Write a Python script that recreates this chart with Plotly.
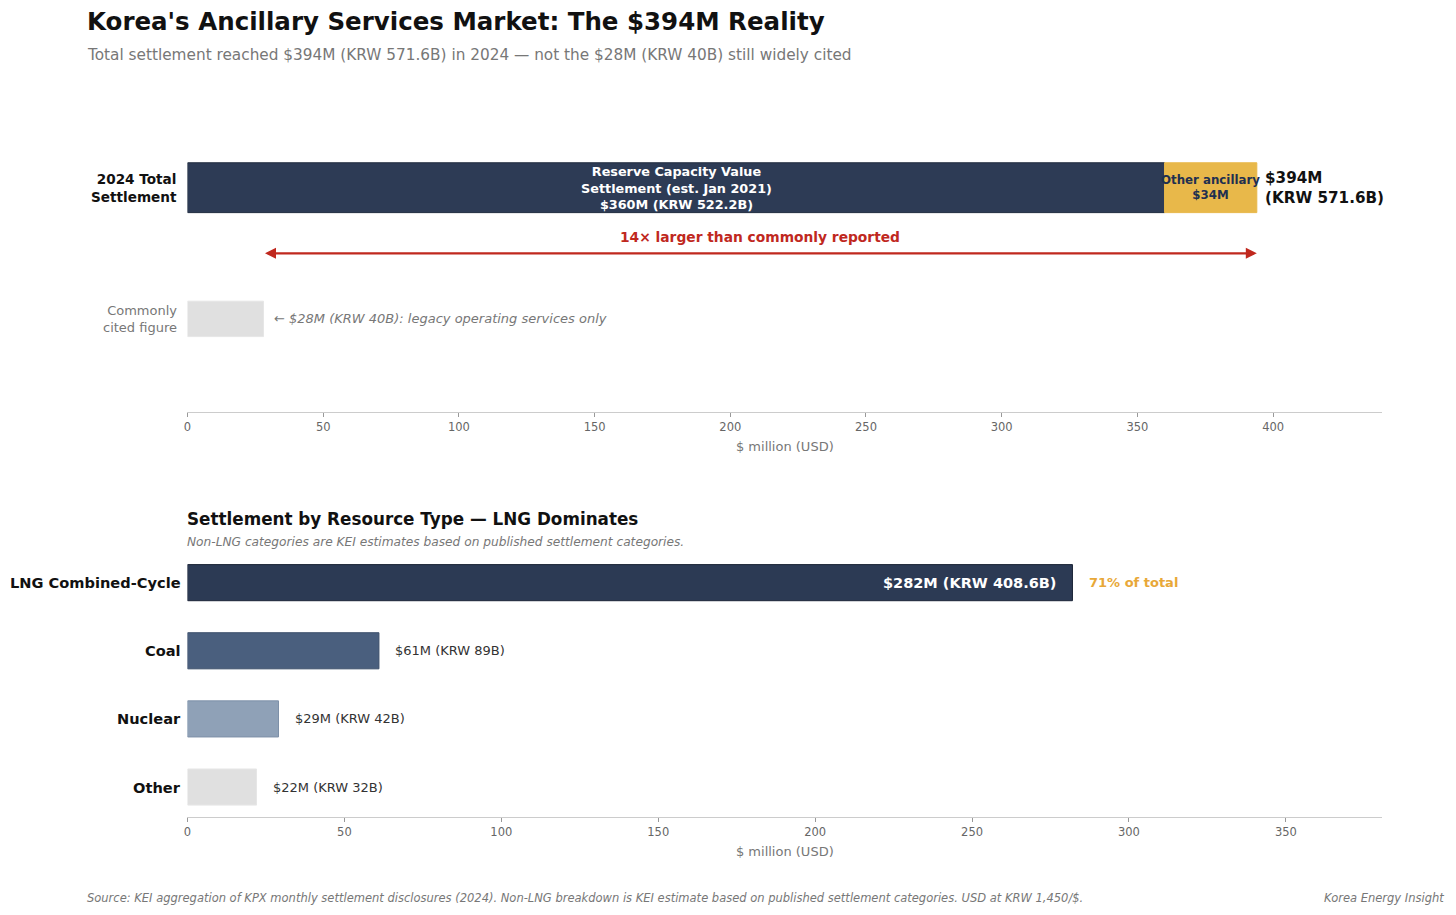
import plotly.graph_objects as go

# ---- data ----
top_labels = ["2024 Total<br>Settlement", "Commonly<br>cited figure"]
reserve_capacity = 360
other_ancillary = 34
total_2024 = 394
commonly_cited = 28

res_types = ["LNG Combined-Cycle", "Coal", "Nuclear", "Other"]
res_values = [282, 61, 29, 22]
res_text = ["$282M (KRW 408.6B)", "$61M (KRW 89B)", "$29M (KRW 42B)", "$22M (KRW 32B)"]
res_colors = ["#2c3a54", "#4a5f7e", "#8fa1b7", "#e0e0e0"]
res_edges = ["#1b2436", "#3c4f6b", "#7d90a8", "#e6e6e6"]

top_ticks = [0, 50, 100, 150, 200, 250, 300, 350, 400]
bot_ticks = [0, 50, 100, 150, 200, 250, 300, 350]

FONT = "DejaVu Sans"
W, H = 1456, 915
DX = -2  # small horizontal correction

def px_x(p):
    return (p + DX) / W

def px_y(p):
    return 1 - p / H

fig = go.Figure()

# top chart: y numeric (1 = total, 0 = commonly cited)
fig.add_trace(go.Bar(x=[reserve_capacity], y=[1], base=[0], orientation="h", width=0.38,
                     marker=dict(color="#2d3b55", line=dict(color="#1e2a3d", width=1)),
                     xaxis="x", yaxis="y", hoverinfo="skip", showlegend=False))
fig.add_trace(go.Bar(x=[other_ancillary], y=[1], base=[reserve_capacity], orientation="h", width=0.38,
                     marker=dict(color="#e8b84a", line=dict(color="#e8b84a", width=1)),
                     xaxis="x", yaxis="y", hoverinfo="skip", showlegend=False))
fig.add_trace(go.Bar(x=[commonly_cited], y=[0], base=[0], orientation="h", width=0.27,
                     marker=dict(color="#e0e0e0", line=dict(color="#e6e6e6", width=1)),
                     xaxis="x", yaxis="y", hoverinfo="skip", showlegend=False))

# bottom chart
ypos = [3, 2, 1, 0]
fig.add_trace(go.Bar(x=res_values, y=ypos, orientation="h", width=0.53,
                     marker=dict(color=res_colors, line=dict(color=res_edges, width=1)),
                     xaxis="x2", yaxis="y2", hoverinfo="skip", showlegend=False))

axis_common = dict(showgrid=False, zeroline=False, showline=True, linecolor="#cccccc", linewidth=1,
                   ticks="outside", tickcolor="#999999", ticklen=4, tickwidth=1,
                   tickfont=dict(family=FONT, size=11.5, color="#666666"),
                   title_font=dict(family=FONT, size=13, color="#777777"),
                   fixedrange=True)

fig.update_layout(
    width=W, height=H,
    margin=dict(l=0, r=0, t=0, b=0),
    paper_bgcolor="white", plot_bgcolor="white",
    barmode="overlay",
    font=dict(family=FONT),
    xaxis=dict(domain=[px_x(186), px_x(1384)], range=[0, 440.2], anchor="y",
               tickvals=top_ticks, title=dict(text="$ million (USD)", standoff=9), **axis_common),
    yaxis=dict(domain=[px_y(412), px_y(109)], range=[-0.71, 1.6], visible=False, fixedrange=True),
    xaxis2=dict(domain=[px_x(186), px_x(1384)], range=[0, 380.7], anchor="y2",
                tickvals=bot_ticks, title=dict(text="$ million (USD)", standoff=9), **axis_common),
    yaxis2=dict(domain=[px_y(817), px_y(552)], range=[-0.44, 3.45], visible=False, fixedrange=True),
)

ann = []
# titles
ann.append(dict(text="<b>Korea's Ancillary Services Market: The $394M Reality</b>", x=px_x(83), y=px_y(22),
                xref="paper", yref="paper", xanchor="left", yanchor="middle", showarrow=False,
                font=dict(family=FONT, size=24.5, color="#111111")))
ann.append(dict(text="Total settlement reached $394M (KRW 571.6B) in 2024 — not the $28M (KRW 40B) still widely cited",
                x=px_x(83), y=px_y(55), xref="paper", yref="paper", xanchor="left", yanchor="middle",
                showarrow=False, font=dict(family=FONT, size=15.3, color="#777777")))

# top y labels
ann.append(dict(text="<b>2024 Total<br>Settlement</b>", x=px_x(177), y=1, xref="paper", yref="y",
                xanchor="right", yanchor="middle", align="right", showarrow=False,
                font=dict(family=FONT, size=13.6, color="#111111")))
ann.append(dict(text="Commonly<br>cited figure", x=px_x(177), y=0, xref="paper", yref="y",
                xanchor="right", yanchor="middle", align="right", showarrow=False,
                font=dict(family=FONT, size=13, color="#777777")))

# top bar labels
ann.append(dict(text="<b>Reserve Capacity Value<br>Settlement (est. Jan 2021)<br>$360M (KRW 522.2B)</b>",
                x=reserve_capacity / 2, y=1, xref="x", yref="y", xanchor="center", yanchor="middle",
                showarrow=False, font=dict(family=FONT, size=12.8, color="white")))
ann.append(dict(text="<b>Other ancillary<br>$34M</b>", x=reserve_capacity + other_ancillary / 2, y=1,
                xref="x", yref="y", xanchor="center", yanchor="middle", showarrow=False,
                font=dict(family=FONT, size=11.8, color="#1f3050")))
ann.append(dict(text="<b>$394M<br>(KRW 571.6B)</b>", x=total_2024 + 2.2, y=1, xref="x", yref="y",
                xanchor="left", yanchor="middle", align="left", showarrow=False,
                font=dict(family=FONT, size=15.2, color="#111111")))
ann.append(dict(text="<i>← $28M (KRW 40B): legacy operating services only</i>", x=commonly_cited + 3.3, y=0,
                xref="x", yref="y", xanchor="left", yanchor="middle", showarrow=False,
                font=dict(family=FONT, size=13, color="#777777")))

# arrow
ann.append(dict(x=total_2024, y=0.5, ax=commonly_cited, ay=0.5, xref="x", yref="y", axref="x", ayref="y",
                text="", showarrow=True, arrowhead=2, arrowside="end+start", arrowsize=1, arrowwidth=2.2,
                arrowcolor="#c0281e", standoff=0, startstandoff=0))
ann.append(dict(text="<b>14× larger than commonly reported</b>", x=(commonly_cited + total_2024) / 2, y=0.5,
                xref="x", yref="y", xanchor="center", yanchor="bottom", yshift=6, showarrow=False,
                font=dict(family=FONT, size=13.8, color="#c0281e")))

# bottom section titles
ann.append(dict(text="<b>Settlement by Resource Type — LNG Dominates</b>", x=px_x(183), y=px_y(519),
                xref="paper", yref="paper", xanchor="left", yanchor="middle", showarrow=False,
                font=dict(family=FONT, size=16.8, color="#111111")))
ann.append(dict(text="<i>Non-LNG categories are KEI estimates based on published settlement categories.</i>",
                x=px_x(183), y=px_y(542), xref="paper", yref="paper", xanchor="left", yanchor="middle",
                showarrow=False, font=dict(family=FONT, size=12.2, color="#777777")))

# bottom y labels and values
for name, val, txt, yy in zip(res_types, res_values, res_text, ypos):
    ann.append(dict(text="<b>" + name + "</b>", x=px_x(181), y=yy, xref="paper", yref="y2",
                    xanchor="right", yanchor="middle", showarrow=False,
                    font=dict(family=FONT, size=14.6, color="#111111")))
    if yy == 3:
        ann.append(dict(text="<b>" + txt + "</b>", x=val - 4.5, y=yy, xref="x2", yref="y2",
                        xanchor="right", yanchor="middle", showarrow=False,
                        font=dict(family=FONT, size=14.5, color="white")))
        ann.append(dict(text="<b>71% of total</b>", x=val + 4.5, y=yy, xref="x2", yref="y2",
                        xanchor="left", yanchor="middle", showarrow=False,
                        font=dict(family=FONT, size=13, color="#e8a838")))
    else:
        ann.append(dict(text=txt, x=val + 4.5, y=yy, xref="x2", yref="y2",
                        xanchor="left", yanchor="middle", showarrow=False,
                        font=dict(family=FONT, size=13, color="#333333")))

# footer
ann.append(dict(text="<i>Source: KEI aggregation of KPX monthly settlement disclosures (2024). Non-LNG breakdown is KEI estimate based on published settlement categories. USD at KRW 1,450/$.</i>",
                x=px_x(83), y=px_y(898), xref="paper", yref="paper", xanchor="left", yanchor="middle",
                showarrow=False, font=dict(family=FONT, size=11.5, color="#777777")))
ann.append(dict(text="<i>Korea Energy Insight</i>", x=px_x(1448), y=px_y(898), xref="paper", yref="paper",
                xanchor="right", yanchor="middle", showarrow=False,
                font=dict(family=FONT, size=11.5, color="#777777")))

fig.update_layout(annotations=ann)
fig.write_html("out.html", config={"displayModeBar": False},
               post_script="document.body.style.margin='0';document.body.style.overflow='hidden';")
